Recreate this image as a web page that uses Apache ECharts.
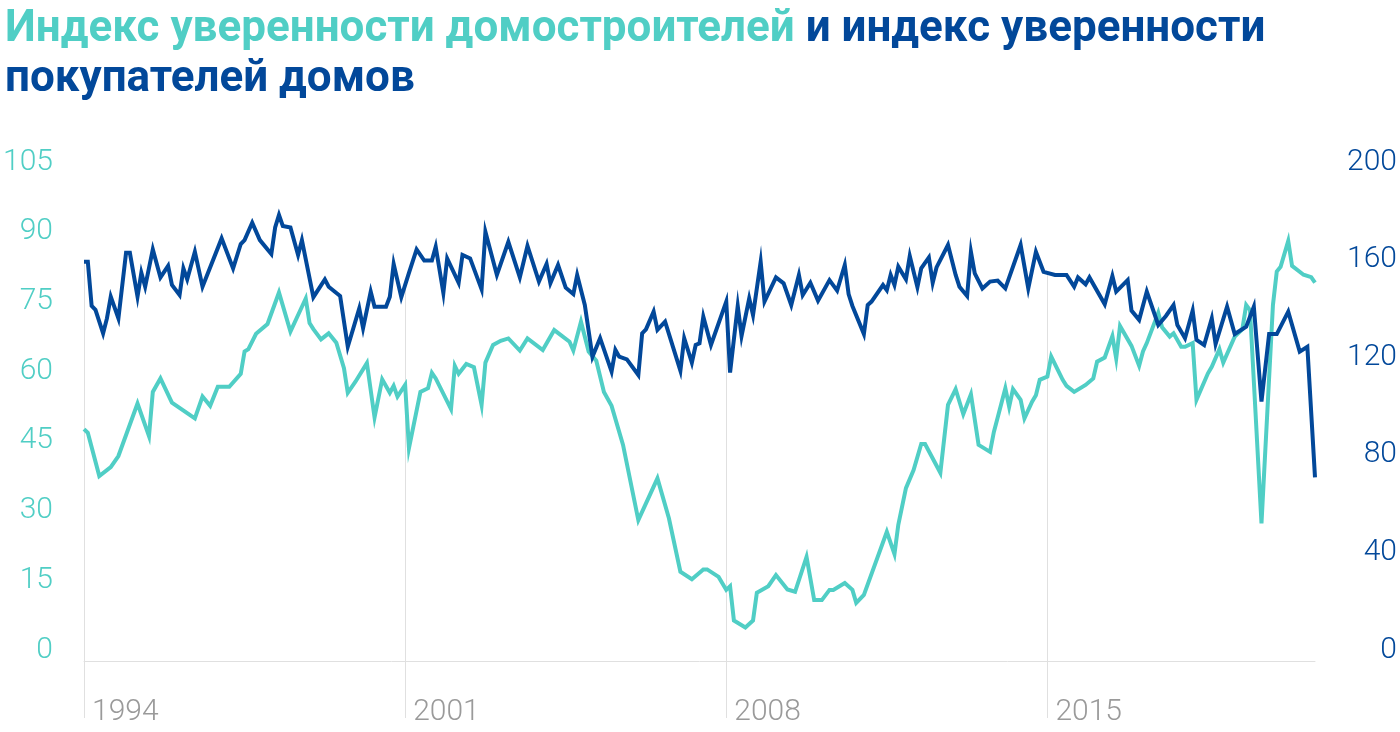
<!DOCTYPE html>
<html>
<head>
<meta charset="utf-8">
<script src="https://cdn.jsdelivr.net/npm/echarts@6/dist/echarts.min.js"></script>
<style>
  html, body { margin: 0; padding: 0; background: #ffffff; }
  #chart { width: 1400px; height: 732px; }
</style>
</head>
<body>
<div id="chart"></div>
<script>
// ---- Data ----
const firstMonth = '1994-08';
const lastMonth = '2021-06';
const tickYears = [1994, 2001, 2008, 2015];
const tickMonth = '08';

const builderDates = ['1994-08','1994-09','1994-12','1995-03','1995-05','1995-10','1996-01','1996-02','1996-04','1996-07',
  '1997-01','1997-03','1997-05','1997-07','1997-10','1998-01','1998-02','1998-03','1998-05','1998-08',
  '1998-11','1999-02','1999-06','1999-07','1999-08','1999-10','1999-12','2000-02','2000-04','2000-05',
  '2000-07','2000-10','2000-12','2001-02','2001-04','2001-05','2001-06','2001-08','2001-09','2001-12',
  '2002-02','2002-03','2002-04','2002-08','2002-09','2002-10','2002-12','2003-02','2003-04','2003-05',
  '2003-07','2003-09','2003-11','2004-02','2004-04','2004-08','2004-11','2005-03','2005-04','2005-06',
  '2005-08','2005-10','2005-12','2006-02','2006-05','2006-09','2006-11','2007-02','2007-05','2007-08',
  '2007-11','2008-02','2008-03','2008-06','2008-08','2008-09','2008-10','2009-01','2009-03','2009-04',
  '2009-07','2009-09','2009-12','2010-02','2010-05','2010-07','2010-09','2010-11','2010-12','2011-03',
  '2011-05','2011-06','2011-08','2012-02','2012-04','2012-05','2012-07','2012-09','2012-11','2012-12',
  '2013-04','2013-06','2013-08','2013-10','2013-12','2014-02','2014-05','2014-06','2014-07','2014-09',
  '2014-10','2014-11','2015-01','2015-02','2015-04','2015-05','2015-06','2015-08','2015-09','2015-12',
  '2016-01','2016-03','2016-06','2016-08','2016-09','2016-11','2017-01','2017-02','2017-03','2017-06',
  '2017-08','2017-09','2017-10','2018-01','2018-02','2018-04','2018-05','2018-07','2018-08','2018-10',
  '2018-11','2019-02','2019-03','2019-05','2019-06','2019-09','2019-11','2019-12','2020-01','2020-04',
  '2020-07','2020-08','2020-09','2020-11','2020-12','2021-03','2021-05','2021-06'];
const builderValues = [49.9,49.1,39.8,41.7,44.1,55.4,48.4,57.9,60.8,55.6,
  52.2,56.9,54.9,59.0,59.0,61.8,66.6,67.1,70.4,72.5,
  79.3,70.9,78.0,72.7,71.4,69.2,70.5,68.5,63.0,57.7,
  60.1,64.1,52.4,60.6,57.7,59.2,56.9,59.4,45.8,57.9,
  58.7,62.0,60.8,54.2,63.5,61.8,63.9,63.2,55.1,64.2,
  68.0,68.9,69.4,66.8,69.4,66.9,71.2,68.7,66.8,73.0,
  66.6,64.6,57.9,54.9,46.5,30.3,33.9,39.3,30.7,19.2,
  17.6,19.7,19.7,18.1,15.3,16.1,8.7,7.2,8.7,14.7,
  16.1,18.5,15.4,14.9,22.4,13.1,13.1,15.3,15.3,16.8,
  15.3,12.5,14.2,27.8,23.0,29.3,37.2,41.1,46.7,46.7,
  40.5,55.1,58.5,53.1,57.4,46.5,45.0,49.3,52.4,58.7,
  54.7,58.5,56.2,52.2,55.8,57.2,60.5,61.2,65.5,60.5,
  59.2,57.9,59.4,60.8,64.4,65.3,69.9,65.1,72.1,67.8,
  63.5,66.6,68.4,74.9,71.8,69.8,70.5,67.6,67.6,68.4,
  56.2,61.9,63.3,67.1,64.2,69.8,71.4,76.6,75.5,29.6,
  76.6,83.8,84.8,90.4,85.0,83.1,82.6,81.4];

const buyerDates = ['1994-08','1994-09','1994-10','1994-11','1995-01','1995-02','1995-03','1995-05','1995-07','1995-08',
  '1995-10','1995-11','1995-12','1996-02','1996-04','1996-06','1996-07','1996-09','1996-10','1996-11',
  '1997-01','1997-03','1997-08','1997-11','1998-01','1998-02','1998-04','1998-06','1998-09','1998-10',
  '1998-11','1998-12','1999-02','1999-04','1999-05','1999-08','1999-11','1999-12','2000-03','2000-05',
  '2000-08','2000-09','2000-11','2000-12','2001-03','2001-04','2001-05','2001-07','2001-09','2001-11',
  '2002-01','2002-03','2002-04','2002-06','2002-07','2002-10','2002-11','2003-01','2003-04','2003-05',
  '2003-08','2003-11','2004-02','2004-04','2004-07','2004-09','2004-10','2004-12','2005-02','2005-04',
  '2005-05','2005-07','2005-09','2005-11','2006-02','2006-03','2006-04','2006-06','2006-09','2006-10',
  '2006-11','2007-01','2007-02','2007-04','2007-08','2007-09','2007-11','2007-12','2008-01','2008-02',
  '2008-04','2008-08','2008-09','2008-11','2008-12','2009-02','2009-03','2009-05','2009-06','2009-09',
  '2009-11','2010-01','2010-03','2010-04','2010-06','2010-08','2010-11','2011-01','2011-03','2011-04',
  '2011-05','2011-08','2011-09','2011-10','2012-01','2012-02','2012-03','2012-04','2012-05','2012-07',
  '2012-08','2012-10','2012-11','2013-01','2013-02','2013-03','2013-06','2013-08','2013-09','2013-11',
  '2013-12','2014-01','2014-03','2014-05','2014-07','2014-09','2015-01','2015-03','2015-05','2015-07',
  '2015-10','2016-01','2016-03','2016-04','2016-06','2016-07','2016-11','2017-01','2017-02','2017-05',
  '2017-06','2017-08','2017-10','2018-01','2018-03','2018-05','2018-06','2018-08','2018-10','2018-11',
  '2019-01','2019-03','2019-04','2019-07','2019-09','2019-12','2020-02','2020-04','2020-06','2020-08',
  '2020-11','2021-02','2021-04','2021-06'];
const buyerValues = [163.6,163.6,145.5,143.9,134.3,140.4,149.3,140.4,167.3,167.3,
  149.3,159.1,153.4,168.7,157.2,161.9,154.1,150.0,160.9,156.4,
  167.7,153.4,173.2,160.9,170.9,172.5,179.6,172.5,166.8,177.7,
  182.8,178.3,177.7,166.4,172.5,149.1,156.4,153.4,149.6,128.8,
  144.5,136.4,151.4,145.2,145.2,149.3,162.7,149.1,159.1,168.7,
  164.1,164.1,169.8,150.9,165.0,155.0,166.4,165.0,152.3,175.9,
  158.2,171.8,157.2,170.1,155.5,162.7,154.8,162.3,153.0,150.4,
  158.2,145.9,124.7,132.3,118.6,127.5,124.7,123.6,117.2,134.3,
  135.9,143.2,135.7,139.1,119.0,132.3,122.3,129.5,130.2,141.1,
  129.5,147.3,118.2,145.5,133.2,148.6,141.8,163.6,147.3,157.2,
  154.8,145.9,158.2,150.0,155.0,147.7,156.1,151.8,162.3,150.4,
  145.5,134.0,145.9,147.3,154.1,152.0,158.2,154.1,161.6,156.4,
  166.0,153.2,160.9,165.4,155.0,161.3,170.5,158.2,153.4,149.6,
  167.7,158.9,152.7,155.5,155.9,152.7,170.5,152.7,167.7,159.5,
  158.2,158.2,153.4,157.2,154.4,157.2,146.2,157.8,151.4,156.1,
  143.6,139.8,151.4,137.7,141.4,145.9,137.7,132.3,143.6,131.6,
  129.5,140.4,129.9,145.2,134.0,137.0,145.2,106.3,134.0,134.0,
  143.2,126.8,128.8,75.3];

const titlePart1 = 'Индекс уверенности домостроителей';
const titlePart2 = 'и индекс уверенности';
const titlePart3 = 'покупателей домов';

// ---- Build month categories ----
function buildMonths(from, to) {
  const out = [];
  let y = +from.slice(0, 4), m = +from.slice(5, 7);
  const ty = +to.slice(0, 4), tm = +to.slice(5, 7);
  while (y < ty || (y === ty && m <= tm)) {
    out.push(y + '-' + String(m).padStart(2, '0'));
    m++; if (m > 12) { m = 1; y++; }
  }
  return out;
}
const months = buildMonths(firstMonth, lastMonth);
const isTick = (idx, val) => val.slice(5, 7) === tickMonth && tickYears.indexOf(+val.slice(0, 4)) >= 0;

const TEAL = '#50CEC5';
const NAVY = '#02489A';
const GRID = '#e0e0e0';
const FONT = 'Roboto, "Noto Sans", sans-serif';

const builderData = builderDates.map((d, i) => [d, builderValues[i]]);
const buyerData = buyerDates.map((d, i) => [d, buyerValues[i]]);

const chart = echarts.init(document.getElementById('chart'), null, { renderer: 'canvas' });
chart.setOption({
  animation: false,
  backgroundColor: '#ffffff',
  title: {
    left: 0, top: 0,
    text: '{a|' + titlePart1 + '} {b|' + titlePart2 + '}\n{b|' + titlePart3 + '}',
    textStyle: {
      fontFamily: FONT, fontWeight: 'bold', fontSize: 44, lineHeight: 50,
      rich: {
        a: { color: TEAL, fontFamily: FONT, fontWeight: 'bold', fontSize: 44, lineHeight: 50 },
        b: { color: NAVY, fontFamily: FONT, fontWeight: 'bold', fontSize: 44, lineHeight: 50 }
      }
    }
  },
  grid: { left: 84, right: 84, top: 173, bottom: 71, containLabel: false },
  xAxis: {
    type: 'category',
    data: months,
    boundaryGap: false,
    axisLine: { show: true, lineStyle: { color: GRID, width: 1 } },
    axisTick: { show: true, interval: isTick, length: 57, lineStyle: { color: GRID, width: 1 } },
    splitLine: { show: true, interval: isTick, lineStyle: { color: GRID, width: 1 } },
    axisLabel: {
      interval: isTick,
      formatter: v => v.slice(0, 4),
      align: 'left',
      padding: [0, 0, 0, 8],
      margin: 36,
      fontSize: 30, fontFamily: FONT, fontWeight: 300, color: '#9a9a9a'
    }
  },
  yAxis: [
    {
      type: 'value', min: 0, max: 105, interval: 15, position: 'left',
      axisLine: { show: false }, axisTick: { show: false }, splitLine: { show: false },
      axisLabel: { margin: 31, fontSize: 30, fontFamily: FONT, fontWeight: 300, color: TEAL,
                   verticalAlign: 'bottom', lineHeight: 22 }
    },
    {
      type: 'value', min: 0, max: 200, interval: 40, position: 'right',
      axisLine: { show: false }, axisTick: { show: false }, splitLine: { show: false },
      axisLabel: { margin: 82, align: 'right', fontSize: 30, fontFamily: FONT, fontWeight: 300, color: NAVY,
                   verticalAlign: 'bottom', lineHeight: 22 }
    }
  ],
  series: [
    {
      // white mask above the buyers line: hides vertical grid lines above it
      name: 'mask', type: 'line', yAxisIndex: 1, data: buyerData,
      symbol: 'none', silent: true, z: 1,
      lineStyle: { width: 0, opacity: 0 },
      areaStyle: { color: '#ffffff', opacity: 1, origin: 'end' }
    },
    {
      name: titlePart1, type: 'line', yAxisIndex: 0, data: builderData,
      symbol: 'none', z: 3,
      lineStyle: { color: TEAL, width: 4, join: 'miter' }
    },
    {
      name: titlePart3, type: 'line', yAxisIndex: 1, data: buyerData,
      symbol: 'none', z: 4,
      lineStyle: { color: NAVY, width: 4, join: 'miter' }
    }
  ]
});
</script>
</body>
</html>
